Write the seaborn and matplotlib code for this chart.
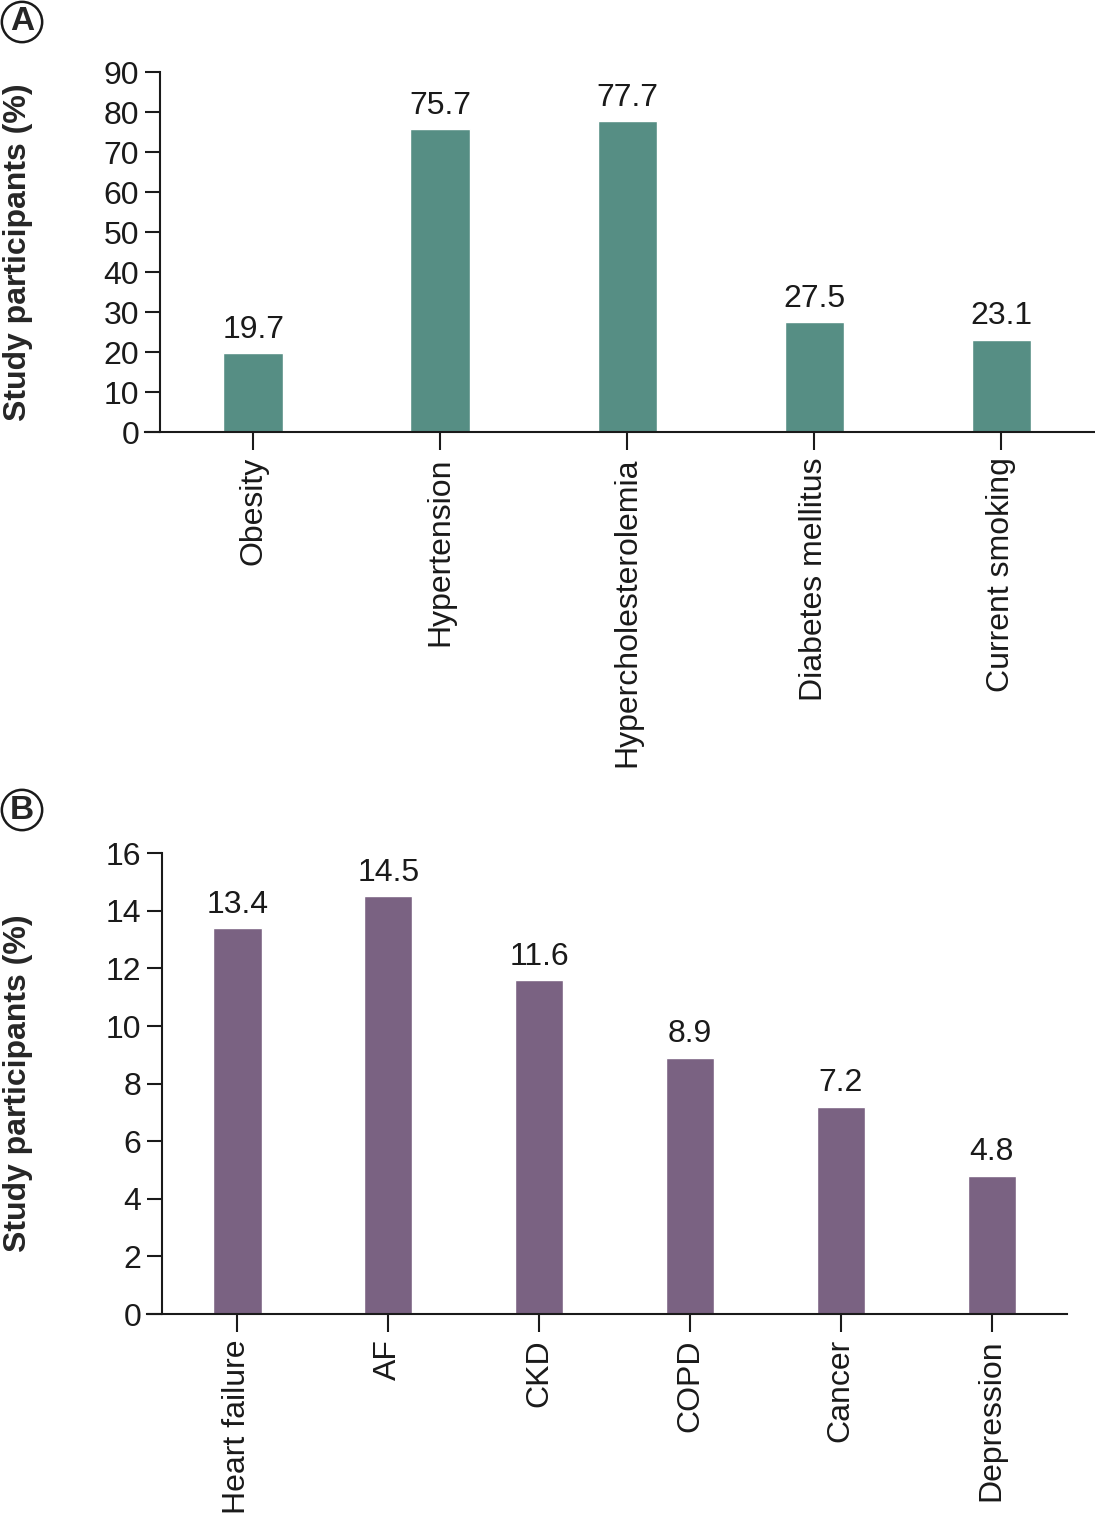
import matplotlib.pyplot as plt
import pandas as pd
import seaborn as sns

sns.set_style("ticks")
plt.rcParams["font.family"] = ["Liberation Sans", "DejaVu Sans"]

# panel A: risk factors
risk_labels = ["Obesity", "Hypertension", "Hypercholesterolemia", "Diabetes mellitus", "Current smoking"]
risk_values = [19.7, 75.7, 77.7, 27.5, 23.1]

# panel B: comorbidities
comorb_labels = ["Heart failure", "AF", "CKD", "COPD", "Cancer", "Depression"]
comorb_values = [13.4, 14.5, 11.6, 8.9, 7.2, 4.8]

teal = "#568E84"
purple = "#7A6282"

fig = plt.figure(figsize=(10.95, 15.16), dpi=100)
ax_a = fig.add_axes([0.146, 0.715, 0.854, 0.2375])
ax_b = fig.add_axes([0.148, 0.1332, 0.8265, 0.304])

FS = 23


def draw_panel(ax, labels, values, color, ymax, step, width, label_x):
    df = pd.DataFrame({"cat": labels, "val": values})
    sns.barplot(data=df, x="cat", y="val", color=color, width=width, ax=ax,
                saturation=1, order=labels)
    for container in ax.containers:
        ax.bar_label(container, labels=[f"{v:.1f}" for v in container.datavalues],
                     padding=6, fontsize=FS, color="#1a1a1a")
    ax.set_xlim(-0.5, len(labels) - 0.5)
    ax.set_ylim(0, ymax)
    ax.set_yticks(range(0, ymax + 1, step))
    ax.set_xlabel("")
    ax.set_ylabel("Study participants (%)", fontsize=FS, fontweight="bold")
    ax.yaxis.set_label_coords(label_x, 0.5)
    ax.tick_params(axis="y", labelsize=FS, length=11, width=1.5, pad=4, colors="#1a1a1a")
    ax.tick_params(axis="x", labelsize=FS, length=13, width=1.5, pad=5, colors="#1a1a1a",
                   labelrotation=90)
    for s in ["top", "right"]:
        ax.spines[s].set_visible(False)
    for s in ["left", "bottom"]:
        ax.spines[s].set_linewidth(1.5)
        ax.spines[s].set_color("#1a1a1a")
    # let the baseline run a little left of the y axis like the original
    ax.spines["bottom"].set_bounds(-0.5 - 15 / ax.bbox.width * len(labels), len(labels) - 0.5)
    ax.spines["bottom"].set_clip_on(False)


draw_panel(ax_a, risk_labels, risk_values, teal, 90, 10, 0.32, -0.136)
draw_panel(ax_b, comorb_labels, comorb_values, purple, 16, 2, 0.32, -0.1425)

circle = dict(boxstyle="circle,pad=0.14", fc="white", ec="#1a1a1a", lw=1.8)
fig.text(22 / 1095, 1 - 22 / 1516, "A", fontsize=24, fontweight="bold",
         ha="center", va="center", bbox=circle)
fig.text(22 / 1095, 1 - 810 / 1516, "B", fontsize=24, fontweight="bold",
         ha="center", va="center", bbox=circle)

fig.savefig("out.png", dpi=100)
